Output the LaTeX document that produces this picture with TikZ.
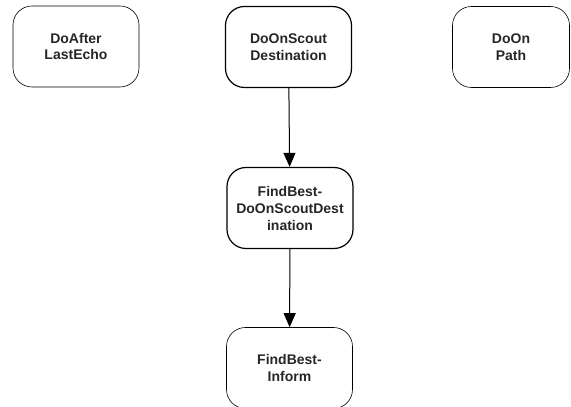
\documentclass[tikz,border=0pt]{standalone}
\usepackage{fontspec}
\setmainfont{Liberation Sans}
\usetikzlibrary{arrows.meta}
\begin{document}
\begin{tikzpicture}[x=1pt,y=1pt,
  state/.style={draw=black, rectangle, rounded corners=19pt,
    minimum width=126pt, minimum height=81pt, inner sep=0pt,
    align=center, font=\bfseries\fontsize{14}{17}\selectfont, text=black!85},
  thinstate/.style={state, line width=0.6pt},
  thickstate/.style={state, line width=1.2pt},
  flow/.style={line width=1pt, -{Triangle[length=14pt,width=12pt]}}]
  \useasboundingbox (0,0) rectangle (571,407);
  \node[thinstate]  (after)  at (76,360.5)  {DoAfter\\LastEcho};
  \node[thickstate] (scout)  at (288.5,360) {DoOnScout\\Destination};
  \node[thinstate, minimum width=117pt] (path) at (511,360) {DoOn\\Path};
  \node[thickstate] (best)   at (290,199)   {FindBest-\\DoOnScoutDest\\ination};
  \node[thinstate]  (inform) at (289.5,39)  {FindBest-\\Inform};
  \draw[flow] (scout) -- (best);
  \draw[flow] (best) -- (inform);
\end{tikzpicture}
\end{document}
